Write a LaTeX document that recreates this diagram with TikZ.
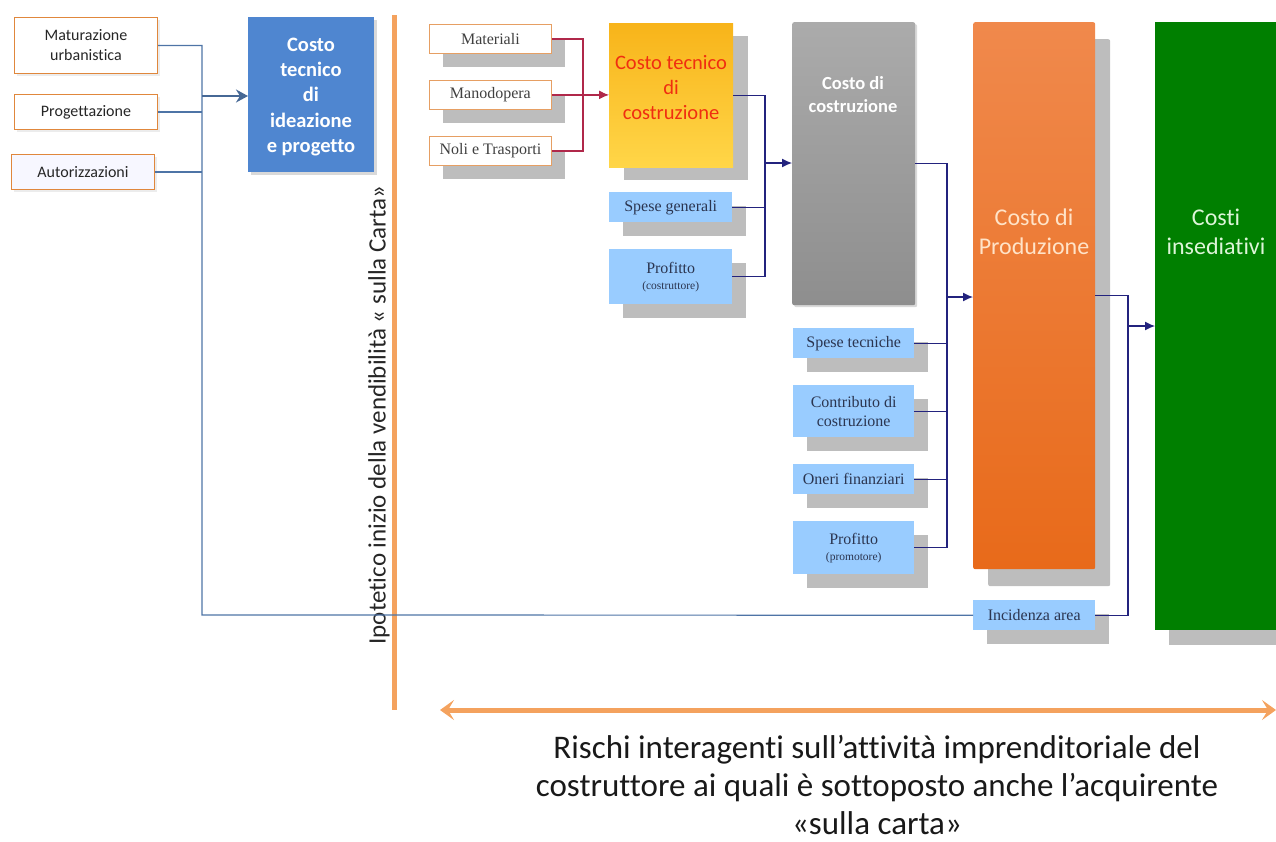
\documentclass[tikz,border=0pt]{standalone}
\usepackage{fontspec}
\setmainfont{Carlito}[Ligatures=NoCommon]
\newfontfamily\tnr{Liberation Serif}[Ligatures=NoCommon]
\usetikzlibrary{arrows.meta,shadows,calc}
\definecolor{orangeb}{HTML}{E0873C}
\definecolor{ideablue}{HTML}{4F86D0}
\definecolor{shgray}{HTML}{BDBDBD}
\definecolor{lblue}{HTML}{99CCFF}
\definecolor{steel}{HTML}{4E74A6}
\definecolor{crim}{HTML}{B0284A}
\definecolor{navy}{HTML}{23237E}
\definecolor{vline}{HTML}{F4A25E}
\definecolor{darktxt}{HTML}{2B3550}
\definecolor{green1}{HTML}{007F00}
\definecolor{redtxt}{HTML}{F02E10}
\definecolor{yelT}{HTML}{F8B41A}
\definecolor{yelB}{HTML}{FFD648}
\definecolor{grT}{HTML}{ABABAB}
\definecolor{grB}{HTML}{8E8E8E}
\definecolor{orT}{HTML}{F0894C}
\definecolor{orB}{HTML}{E86A1A}
\definecolor{prodtxt}{HTML}{FFE3C8}
\definecolor{cinstxt}{HTML}{DDF5D8}
\tikzset{
  obox/.style={draw=orangeb, line width=1pt, fill=white, font=\fontsize{16}{20}\selectfont, align=center, inner sep=0pt, anchor=north west, text=black!85,
    drop shadow={opacity=0.15, shadow xshift=2pt, shadow yshift=-2pt}},
  wbox/.style={draw=orangeb!80, line width=0.8pt, fill=white, font=\tnr\fontsize{16}{18}\selectfont, align=center, inner sep=0pt, anchor=north west, text=black!75,
    general shadow={fill=shgray, shadow xshift=14pt, shadow yshift=-14pt}},
  lbbox/.style={fill=lblue, font=\tnr\fontsize{16}{18}\selectfont, align=center, inner sep=0pt, anchor=north west, text=darktxt,
    general shadow={fill=shgray, shadow xshift=14pt, shadow yshift=-14pt}},
  bigbox/.style={inner sep=0pt, anchor=north west},
  sline/.style={draw=steel, line width=1.2pt},
  rline/.style={draw=crim, line width=1.2pt},
  nline/.style={draw=navy, line width=1.2pt},
  ntip/.style={-{Latex[length=10pt,width=9pt]}},
  lbl/.style={inner sep=0pt, align=center},
}
\begin{document}
\begin{tikzpicture}[x=1pt,y=-1pt]
\useasboundingbox (0,0) rectangle (1276,841);
% left orange boxes
\node[obox, minimum width=143pt, minimum height=56pt] (mat) at (14,17) {Maturazione\\urbanistica};
\node[obox, minimum width=143pt, minimum height=35pt] (prog) at (14,94) {Progettazione};
\node[obox, minimum width=143pt, minimum height=35pt, fill=blue!3] (aut) at (11,154) {Autorizzazioni};
% ideazione box
\node[bigbox, fill=ideablue, minimum width=126pt, minimum height=155pt,
  drop shadow={opacity=0.3, shadow xshift=3pt, shadow yshift=-3pt}] (idea) at (248,17) {};
\node[lbl, text=white, font=\bfseries\fontsize{20.5}{25.2}\selectfont] (ideat) at (311,97) {Costo\\tecnico\\di\\ideazione\\e progetto};
% vertical orange line and rotated text
\coordinate (vT) at (394,15);
\coordinate (vB) at (394,710);
\draw[vline, line width=5pt] (vT) -- (vB);
\node[lbl, rotate=90, font=\fontsize{25}{28}\selectfont, text=black!85] (ipot) at (379,415) {Ipotetico inizio della vendibilità « sulla Carta»};
% white serif boxes
\node[wbox, minimum width=122pt, minimum height=29pt] (mater) at (429,24) {Materiali};
\node[wbox, minimum width=122pt, minimum height=29pt] (mano) at (429,80) {Manodopera};
\node[wbox, minimum width=122pt, minimum height=29pt] (noli) at (429,136) {Noli e Trasporti};
% costo tecnico di costruzione
\node[bigbox, top color=yelT, bottom color=yelB, minimum width=124pt, minimum height=144pt,
  general shadow={fill=shgray, shadow xshift=15pt, shadow yshift=-13pt}] (ctc) at (609,23) {};
\node[lbl, text=redtxt, font=\fontsize{20.5}{25}\selectfont] (ctct) at (671,88) {Costo tecnico\\di\\costruzione};
\node[lbbox, minimum width=123pt, minimum height=30pt] (spg) at (609,192) {Spese generali};
\node[lbbox, minimum width=123pt, minimum height=55pt] (prof1) at (609,249) {Profitto\\[-2pt]{\fontsize{11.5}{13}\selectfont(costruttore)}};
% costo di costruzione
\node[bigbox, top color=grT, bottom color=grB, minimum width=123pt, minimum height=283pt, rounded corners=2pt,
  drop shadow={opacity=0.3, shadow xshift=2pt, shadow yshift=-2pt}] (ccost) at (792,22) {};
\node[lbl, text=white, font=\bfseries\fontsize{18.5}{23}\selectfont] (ccostt) at (853,95) {Costo di\\costruzione};
\node[lbbox, minimum width=121pt, minimum height=30pt] (spt) at (793,328) {Spese tecniche};
\node[lbbox, minimum width=121pt, minimum height=52pt, font=\tnr\fontsize{16}{19}\selectfont] (contr) at (793,385) {Contributo di\\costruzione};
\node[lbbox, minimum width=121pt, minimum height=30pt] (oneri) at (793,464) {Oneri finanziari};
\node[lbbox, minimum width=121pt, minimum height=53pt] (prof2) at (793,521) {Profitto\\[-2pt]{\fontsize{11.5}{13}\selectfont(promotore)}};
% costo di produzione
\node[bigbox, top color=orT, bottom color=orB, minimum width=122pt, minimum height=547pt, rounded corners=2pt,
  general shadow={fill=shgray, shadow xshift=15pt, shadow yshift=-17pt}] (prod) at (973,22) {};
\node[lbl, text=prodtxt, font=\fontsize{24}{29}\selectfont] (prodt) at (1034,232) {Costo di\\Produzione};
\node[lbbox, minimum width=122pt, minimum height=30pt] (inc) at (973,600) {Incidenza area};
% costi insediativi
\node[bigbox, fill=green1, minimum width=121pt, minimum height=608pt,
  general shadow={fill=shgray, shadow xshift=14pt, shadow yshift=-15pt}] (cins) at (1155,22) {};
\node[lbl, text=cinstxt, font=\fontsize{24}{29}\selectfont] (cinst) at (1216,232) {Costi\\insediativi};
% connectors left (steel)
\coordinate (jL) at (202,96);
\coordinate (cL) at (202,615);
\draw[sline] (mat.east) -| (cL) -- (inc.west);
\draw[sline] (prog.east) -- (prog.east -| cL);
\draw[sline] (aut.east) -- (aut.east -| cL);
\draw[steel!90!black, line width=2pt, -{Stealth[length=12pt,width=13pt,inset=4pt]}] (jL) -- (jL -| idea.west);
% red connectors
\coordinate (jR) at (583,95);
\draw[rline] (mater.east) -| (jR |- noli.east) -- (noli.east);
\draw[rline, ntip] (mano.east) -- (mano.east -| ctc.west);
% navy connectors 1
\coordinate (jN1) at (765,163);
\draw[nline] (ctc.east) -| (jN1 |- prof1.east) -- (prof1.east);
\draw[nline] (spg.east) -- (spg.east -| jN1);
\draw[nline, ntip] (jN1) -- (jN1 -| ccost.west);
% navy connectors 2
\coordinate (jN2) at (947,297);
\draw[nline] (ccost.east) -| (jN2 |- prof2.east) -- (prof2.east);
\draw[nline] (spt.east) -- (spt.east -| jN2);
\draw[nline] (contr.east) -- (contr.east -| jN2);
\draw[nline] (oneri.east) -- (oneri.east -| jN2);
\draw[nline, ntip] (jN2) -- (jN2 -| prod.west);
% navy connectors 3
\coordinate (jN3) at (1128,326);
\draw[nline] (prod.east) -| (jN3 |- inc.east) -- (inc.east);
\draw[nline, ntip] (jN3) -- (jN3 -| cins.west);
% bottom double arrow
\coordinate (aL) at (440,710);
\coordinate (aR) at (1276,710);
\draw[vline, line width=5pt, {Stealth[length=14pt,width=20pt,inset=6pt]}-{Stealth[length=14pt,width=20pt,inset=6pt]}] (aL) -- (aR);
\node[lbl, font=\fontsize{33}{38}\selectfont, text=black!90] (risk) at (877,785) {Rischi interagenti sull’attività imprenditoriale del\\costruttore ai quali è sottoposto anche l’acquirente\\«sulla carta»};
\end{tikzpicture}
\end{document}
